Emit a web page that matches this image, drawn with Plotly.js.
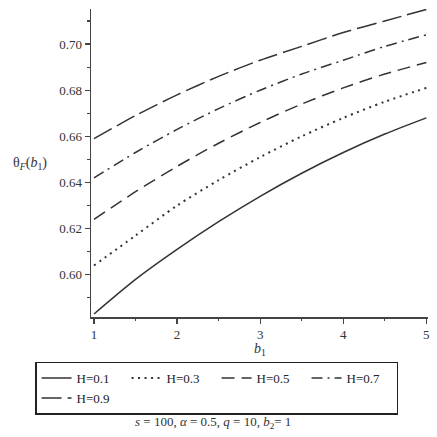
<!DOCTYPE html>
<html>
<head>
<meta charset="utf-8">
<script src="https://cdn.plot.ly/plotly-3.0.1.min.js"></script>
<style>html,body{margin:0;padding:0;background:#fff;}#chart{width:437px;height:437px;}</style>
</head>
<body>
<div id="chart"></div>
<script>
// b1 values
var b1 = [1, 1.5, 2, 2.5, 3, 3.5, 4, 4.5, 5];
// theta_F(b1) for each H
var H01 = [0.583, 0.598, 0.611, 0.623, 0.634, 0.644, 0.653, 0.661, 0.668];
var H03 = [0.604, 0.617, 0.630, 0.641, 0.651, 0.660, 0.668, 0.675, 0.681];
var H05 = [0.624, 0.636, 0.647, 0.657, 0.666, 0.674, 0.681, 0.687, 0.692];
var H07 = [0.642, 0.653, 0.663, 0.672, 0.680, 0.687, 0.693, 0.699, 0.704];
var H09 = [0.659, 0.669, 0.678, 0.686, 0.693, 0.699, 0.705, 0.710, 0.715];
var seriesNames = ['H=0.1', 'H=0.3', 'H=0.5', 'H=0.7', 'H=0.9'];
var yTickVals = [0.60, 0.62, 0.64, 0.66, 0.68, 0.70];
var yTickText = ['0.60', '0.62', '0.64', '0.66', '0.68', '0.70'];
var xTickVals = [1, 2, 3, 4, 5];

var series = [H01, H03, H05, H07, H09];
var dashes = ['solid', '2px,4.5px', '13px,7px', '11px,5px,2px,5px', '20px,6px'];
var widths = [1.5, 2, 1.5, 1.5, 1.5];
var lineColor = '#333';
var traces = series.map(function (ys, i) {
  return {
    x: b1, y: ys, name: seriesNames[i], type: 'scatter', mode: 'lines',
    line: {color: lineColor, width: widths[i], dash: dashes[i], shape: 'spline', smoothing: 0.8}
  };
});

var serif = '"Liberation Serif", "Times New Roman", serif';
var layout = {
  width: 437, height: 437,
  margin: {l: 91, r: 9, t: 9, b: 120},
  paper_bgcolor: '#fff', plot_bgcolor: '#fff',
  font: {family: serif, size: 13, color: '#333'},
  showlegend: true,
  xaxis: {
    range: [0.964, 5.02], tickvals: xTickVals, ticktext: xTickVals.map(String),
    showgrid: false, zeroline: false, showline: true, linecolor: '#444', linewidth: 1.5,
    ticks: 'outside', ticklen: 5, tickwidth: 1.2, tickcolor: '#444',
    minor: {dtick: 0.5, tick0: 1, ticks: 'outside', ticklen: 2, tickwidth: 1.2, tickcolor: '#444'},
    tickfont: {family: serif, size: 13, color: '#333'}
  },
  yaxis: {
    range: [0.5817, 0.7152], tickvals: yTickVals, ticktext: yTickText,
    showgrid: false, zeroline: false, showline: true, linecolor: '#444', linewidth: 1.5,
    ticks: 'outside', ticklen: 5, tickwidth: 1.2, tickcolor: '#444',
    minor: {dtick: 0.01, tick0: 0.59, ticks: 'outside', ticklen: 3, tickwidth: 1.2, tickcolor: '#444'},
    tickfont: {family: serif, size: 13, color: '#333'}
  },
  legend: {
    orientation: 'h', x: -0.166, y: -0.145, xanchor: 'left', yanchor: 'top',
    bordercolor: '#222', borderwidth: 1.5, bgcolor: '#fff',
    entrywidth: 45, entrywidthmode: 'pixels',
    font: {family: serif, size: 13, color: '#222'},
    tracegroupgap: 0
  },
  annotations: [
    {text: 'θ<sub><i>F</i></sub>(<i>b</i><sub>1</sub>)', xref: 'paper', yref: 'paper',
     x: -0.181, y: 0.5, showarrow: false, xanchor: 'center', yanchor: 'middle',
     font: {family: serif, size: 14, color: '#333'}},
    {text: '<i>b</i><sub>1</sub>', xref: 'paper', yref: 'paper',
     x: 0.5015, y: -0.104, showarrow: false, xanchor: 'center', yanchor: 'middle',
     font: {family: serif, size: 14, color: '#333'}},
    {text: '<i>s</i> = 100, <i>α</i> = 0.5, <i>q</i> = 10, <i>b</i><sub>2</sub>= 1', xref: 'paper', yref: 'paper',
     x: 0.362, y: -0.343, showarrow: false, xanchor: 'center', yanchor: 'middle',
     font: {family: serif, size: 13, color: '#333'}}
  ]
};

Plotly.newPlot('chart', traces, layout, {staticPlot: true, displayModeBar: false});
</script>
</body>
</html>
